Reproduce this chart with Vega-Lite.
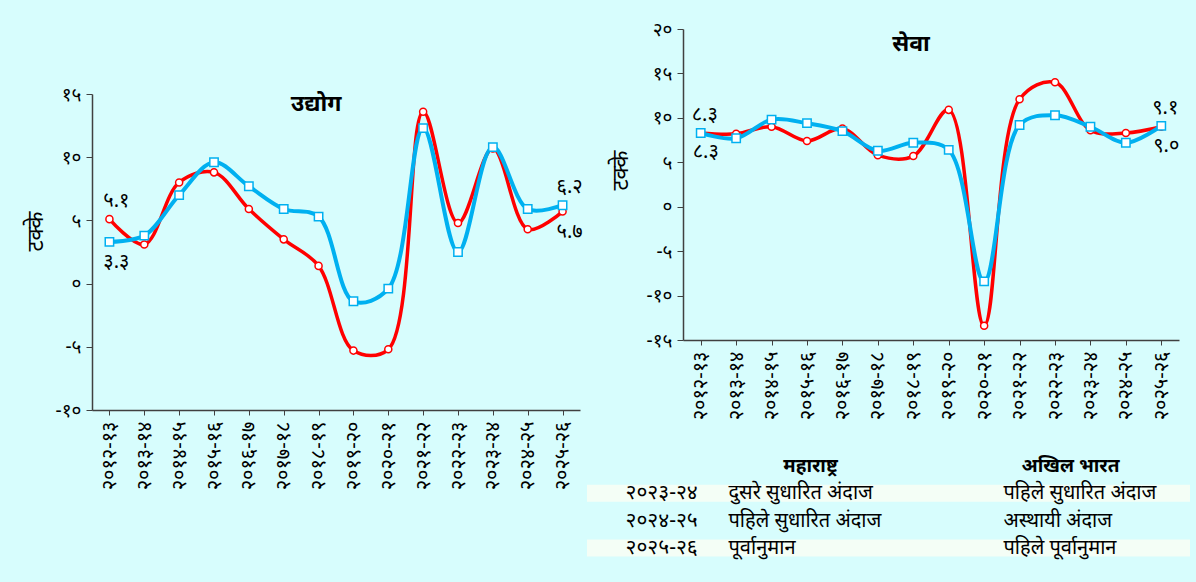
{
"$schema": "https://vega.github.io/schema/vega-lite/v6.json",
"background": "#d7fdfd",
"padding": {"left": 24, "top": 20, "right": 30, "bottom": 80},
"config": {"view": {"stroke": null}, "font": "Noto Sans", "concat": {"spacing": 2}},
"datasets": {
"s": [
{"panel":"उद्योग","series":"महाराष्ट्र","year":"२०१२-१३","value":5.1,"label":"५.१"},
{"panel":"उद्योग","series":"महाराष्ट्र","year":"२०१३-१४","value":3.1},
{"panel":"उद्योग","series":"महाराष्ट्र","year":"२०१४-१५","value":8.0},
{"panel":"उद्योग","series":"महाराष्ट्र","year":"२०१५-१६","value":8.8},
{"panel":"उद्योग","series":"महाराष्ट्र","year":"२०१६-१७","value":5.9},
{"panel":"उद्योग","series":"महाराष्ट्र","year":"२०१७-१८","value":3.5},
{"panel":"उद्योग","series":"महाराष्ट्र","year":"२०१८-१९","value":1.4},
{"panel":"उद्योग","series":"महाराष्ट्र","year":"२०१९-२०","value":-5.3},
{"panel":"उद्योग","series":"महाराष्ट्र","year":"२०२०-२१","value":-5.2},
{"panel":"उद्योग","series":"महाराष्ट्र","year":"२०२१-२२","value":13.6},
{"panel":"उद्योग","series":"महाराष्ट्र","year":"२०२२-२३","value":4.8},
{"panel":"उद्योग","series":"महाराष्ट्र","year":"२०२३-२४","value":10.7},
{"panel":"उद्योग","series":"महाराष्ट्र","year":"२०२४-२५","value":4.3},
{"panel":"उद्योग","series":"महाराष्ट्र","year":"२०२५-२६","value":5.7,"label":"५.७"},
{"panel":"उद्योग","series":"अखिल भारत","year":"२०१२-१३","value":3.3,"label":"३.३"},
{"panel":"उद्योग","series":"अखिल भारत","year":"२०१३-१४","value":3.8},
{"panel":"उद्योग","series":"अखिल भारत","year":"२०१४-१५","value":7.0},
{"panel":"उद्योग","series":"अखिल भारत","year":"२०१५-१६","value":9.6},
{"panel":"उद्योग","series":"अखिल भारत","year":"२०१६-१७","value":7.7},
{"panel":"उद्योग","series":"अखिल भारत","year":"२०१७-१८","value":5.9},
{"panel":"उद्योग","series":"अखिल भारत","year":"२०१८-१९","value":5.3},
{"panel":"उद्योग","series":"अखिल भारत","year":"२०१९-२०","value":-1.4},
{"panel":"उद्योग","series":"अखिल भारत","year":"२०२०-२१","value":-0.4},
{"panel":"उद्योग","series":"अखिल भारत","year":"२०२१-२२","value":12.3},
{"panel":"उद्योग","series":"अखिल भारत","year":"२०२२-२३","value":2.5},
{"panel":"उद्योग","series":"अखिल भारत","year":"२०२३-२४","value":10.8},
{"panel":"उद्योग","series":"अखिल भारत","year":"२०२४-२५","value":5.9},
{"panel":"उद्योग","series":"अखिल भारत","year":"२०२५-२६","value":6.2,"label":"६.२"},
{"panel":"सेवा","series":"महाराष्ट्र","year":"२०१२-१३","value":8.3,"label":"८.३"},
{"panel":"सेवा","series":"महाराष्ट्र","year":"२०१३-१४","value":8.2},
{"panel":"सेवा","series":"महाराष्ट्र","year":"२०१४-१५","value":9.0},
{"panel":"सेवा","series":"महाराष्ट्र","year":"२०१५-१६","value":7.4},
{"panel":"सेवा","series":"महाराष्ट्र","year":"२०१६-१७","value":8.8},
{"panel":"सेवा","series":"महाराष्ट्र","year":"२०१७-१८","value":5.8},
{"panel":"सेवा","series":"महाराष्ट्र","year":"२०१८-१९","value":5.7},
{"panel":"सेवा","series":"महाराष्ट्र","year":"२०१९-२०","value":10.9},
{"panel":"सेवा","series":"महाराष्ट्र","year":"२०२०-२१","value":-13.4},
{"panel":"सेवा","series":"महाराष्ट्र","year":"२०२१-२२","value":12.1},
{"panel":"सेवा","series":"महाराष्ट्र","year":"२०२२-२३","value":14.0},
{"panel":"सेवा","series":"महाराष्ट्र","year":"२०२३-२४","value":8.6},
{"panel":"सेवा","series":"महाराष्ट्र","year":"२०२४-२५","value":8.3},
{"panel":"सेवा","series":"महाराष्ट्र","year":"२०२५-२६","value":9.0,"label":"९.०"},
{"panel":"सेवा","series":"अखिल भारत","year":"२०१२-१३","value":8.3,"label":"८.३"},
{"panel":"सेवा","series":"अखिल भारत","year":"२०१३-१४","value":7.7},
{"panel":"सेवा","series":"अखिल भारत","year":"२०१४-१५","value":9.8},
{"panel":"सेवा","series":"अखिल भारत","year":"२०१५-१६","value":9.4},
{"panel":"सेवा","series":"अखिल भारत","year":"२०१६-१७","value":8.5},
{"panel":"सेवा","series":"अखिल भारत","year":"२०१७-१८","value":6.3},
{"panel":"सेवा","series":"अखिल भारत","year":"२०१८-१९","value":7.2},
{"panel":"सेवा","series":"अखिल भारत","year":"२०१९-२०","value":6.4},
{"panel":"सेवा","series":"अखिल भारत","year":"२०२०-२१","value":-8.4},
{"panel":"सेवा","series":"अखिल भारत","year":"२०२१-२२","value":9.2},
{"panel":"सेवा","series":"अखिल भारत","year":"२०२२-२३","value":10.3},
{"panel":"सेवा","series":"अखिल भारत","year":"२०२३-२४","value":9.0},
{"panel":"सेवा","series":"अखिल भारत","year":"२०२४-२५","value":7.2},
{"panel":"सेवा","series":"अखिल भारत","year":"२०२५-२६","value":9.1,"label":"९.१"}
],
"t": [
{"row":"शीर्षक","col":"महाराष्ट्र","text":"महाराष्ट्र"},
{"row":"शीर्षक","col":"अखिल भारत","text":"अखिल भारत"},
{"row":"२०२३-२४","col":"वर्ष","text":"२०२३-२४"},
{"row":"२०२३-२४","col":"महाराष्ट्र","text":"दुसरे सुधारित अंदाज"},
{"row":"२०२३-२४","col":"अखिल भारत","text":"पहिले सुधारित अंदाज"},
{"row":"२०२४-२५","col":"वर्ष","text":"२०२४-२५"},
{"row":"२०२४-२५","col":"महाराष्ट्र","text":"पहिले सुधारित अंदाज"},
{"row":"२०२४-२५","col":"अखिल भारत","text":"अस्थायी अंदाज"},
{"row":"२०२५-२६","col":"वर्ष","text":"२०२५-२६"},
{"row":"२०२५-२६","col":"महाराष्ट्र","text":"पूर्वानुमान"},
{"row":"२०२५-२६","col":"अखिल भारत","text":"पहिले पूर्वानुमान"}
]
},
"hconcat": [
{"spacing": 0, "vconcat": [
 {"width": 488, "height": 56, "data": {"values": [{"a": 1}]}, "mark": {"type": "point", "opacity": 0}},
 {"width": 488, "height": 316,
  "data": {"name": "s"},
  "transform": [{"filter": "datum.panel === 'उद्योग'"}],
  "title": {"text": "उद्योग", "fontSize": 23, "fontWeight": "bold", "color": "#000", "frame": "group", "offset": -31, "dx": -20},
  "encoding": {
   "x": {"field": "year", "type": "ordinal", "sort": null, "axis": {"title": null, "labelAngle": -90, "labelFontSize": 20, "labelPadding": 6, "tickSize": 5, "domainColor": "#404040", "tickColor": "#404040", "domainWidth": 1.5, "labelColor": "#000"}},
   "y": {"field": "value", "type": "quantitative", "scale": {"domain": [-10, 15], "nice": false, "zero": false}, "axis": {"values": [-10,-5,0,5,10,15], "grid": false, "title": "टक्के", "titleY": 137, "titleFontSize": 22, "titleFontWeight": "normal", "titleColor": "#000", "titlePadding": 8, "labelFontSize": 19, "labelPadding": 5, "labelColor": "#000", "tickSize": 6, "domainColor": "#404040", "tickColor": "#404040", "domainWidth": 1.5, "labelExpr": "replace(replace(replace(replace(replace(replace(replace(replace(replace(replace(toString(datum.value),regexp('0','g'),'०'),regexp('1','g'),'१'),regexp('2','g'),'२'),regexp('3','g'),'३'),regexp('4','g'),'४'),regexp('5','g'),'५'),regexp('6','g'),'६'),regexp('7','g'),'७'),regexp('8','g'),'८'),regexp('9','g'),'९')"}}
  },
  "layer": [
   {"transform": [{"filter": "datum.series === 'महाराष्ट्र'"}], "mark": {"type": "line", "color": "#ff0000", "strokeWidth": 3.5, "interpolate": "catmull-rom"}},
   {"transform": [{"filter": "datum.series === 'महाराष्ट्र'"}], "mark": {"type": "point", "shape": "circle", "filled": true, "fill": "#ffffff", "stroke": "#ff0000", "strokeWidth": 1.5, "size": 50, "opacity": 1}},
   {"transform": [{"filter": "datum.series === 'अखिल भारत'"}], "mark": {"type": "line", "color": "#00b0f0", "strokeWidth": 4, "interpolate": "catmull-rom"}},
   {"transform": [{"filter": "datum.series === 'अखिल भारत'"}], "mark": {"type": "point", "shape": "square", "filled": true, "fill": "#ffffff", "stroke": "#00b0f0", "strokeWidth": 1.5, "size": 70, "opacity": 1}},
   {"transform": [{"filter": "isValid(datum.label) && ((datum.series === 'महाराष्ट्र' && datum.year === '२०१२-१३') || (datum.series === 'अखिल भारत' && datum.year === '२०२५-२६'))"}], "mark": {"type": "text", "fontSize": 20, "color": "#000", "dy": -18, "dx": 7}, "encoding": {"text": {"field": "label"}}},
   {"transform": [{"filter": "isValid(datum.label) && ((datum.series === 'अखिल भारत' && datum.year === '२०१२-१३') || (datum.series === 'महाराष्ट्र' && datum.year === '२०२५-२६'))"}], "mark": {"type": "text", "fontSize": 20, "color": "#000", "dy": 20, "dx": 7}, "encoding": {"text": {"field": "label"}}}
  ]
 }
]},
{"spacing": 32, "vconcat": [
 {"spacing": 18, "hconcat": [
  {"width": 2, "height": 10, "data": {"values": [{"a": 1}]}, "mark": {"type": "point", "opacity": 0}},
  {"width": 496, "height": 311,
  "data": {"name": "s"},
  "transform": [{"filter": "datum.panel === 'सेवा'"}],
  "title": {"text": "सेवा", "fontSize": 23, "fontWeight": "bold", "color": "#000", "frame": "group", "offset": -36, "dx": -20},
  "encoding": {
   "x": {"field": "year", "type": "ordinal", "sort": null, "axis": {"title": null, "labelAngle": -90, "labelFontSize": 20, "labelPadding": 6, "tickSize": 5, "domainColor": "#404040", "tickColor": "#404040", "domainWidth": 1.5, "labelColor": "#000"}},
   "y": {"field": "value", "type": "quantitative", "scale": {"domain": [-15, 20], "nice": false, "zero": false}, "axis": {"values": [-15,-10,-5,0,5,10,15,20], "grid": false, "title": "टक्के", "titleY": 141, "titleFontSize": 22, "titleFontWeight": "normal", "titleColor": "#000", "titlePadding": 14, "labelFontSize": 19, "labelPadding": 5, "labelColor": "#000", "tickSize": 6, "domainColor": "#404040", "tickColor": "#404040", "domainWidth": 1.5, "labelExpr": "replace(replace(replace(replace(replace(replace(replace(replace(replace(replace(toString(datum.value),regexp('0','g'),'०'),regexp('1','g'),'१'),regexp('2','g'),'२'),regexp('3','g'),'३'),regexp('4','g'),'४'),regexp('5','g'),'५'),regexp('6','g'),'६'),regexp('7','g'),'७'),regexp('8','g'),'८'),regexp('9','g'),'९')"}}
  },
  "layer": [
   {"transform": [{"filter": "datum.series === 'महाराष्ट्र'"}], "mark": {"type": "line", "color": "#ff0000", "strokeWidth": 3.5, "interpolate": "catmull-rom"}},
   {"transform": [{"filter": "datum.series === 'महाराष्ट्र'"}], "mark": {"type": "point", "shape": "circle", "filled": true, "fill": "#ffffff", "stroke": "#ff0000", "strokeWidth": 1.5, "size": 50, "opacity": 1}},
   {"transform": [{"filter": "datum.series === 'अखिल भारत'"}], "mark": {"type": "line", "color": "#00b0f0", "strokeWidth": 4, "interpolate": "catmull-rom"}},
   {"transform": [{"filter": "datum.series === 'अखिल भारत'"}], "mark": {"type": "point", "shape": "square", "filled": true, "fill": "#ffffff", "stroke": "#00b0f0", "strokeWidth": 1.5, "size": 70, "opacity": 1}},
   {"transform": [{"filter": "isValid(datum.label) && ((datum.series === 'महाराष्ट्र' && datum.year === '२०१२-१३') || (datum.series === 'अखिल भारत' && datum.year === '२०२५-२६'))"}], "mark": {"type": "text", "fontSize": 20, "color": "#000", "dy": -18, "dx": 4}, "encoding": {"text": {"field": "label"}}},
   {"transform": [{"filter": "isValid(datum.label) && ((datum.series === 'अखिल भारत' && datum.year === '२०१२-१३') || (datum.series === 'महाराष्ट्र' && datum.year === '२०२५-२६'))"}], "mark": {"type": "text", "fontSize": 20, "color": "#000", "dy": 19, "dx": 5}, "encoding": {"text": {"field": "label"}}}
  ]
  }
 ]},
 {"width": 603, "height": 110,
  "data": {"name": "t"},
  "encoding": {
   "y": {"field": "row", "type": "nominal", "scale": {"type": "band", "domain": ["शीर्षक", "२०२३-२४", "२०२४-२५", "२०२५-२६"], "paddingInner": 0.38, "paddingOuter": 0.2}, "axis": null}
  },
  "layer": [
   {"transform": [{"filter": "datum.col === 'वर्ष' && (datum.row === '२०२३-२४' || datum.row === '२०२५-२६')"}], "mark": {"type": "rect", "color": "#f4fef6"}},
   {"transform": [{"filter": "datum.col === 'वर्ष'"}], "mark": {"type": "text", "fontSize": 21, "color": "#000", "align": "left", "dx": -62},
    "encoding": {"x": {"field": "col", "type": "nominal", "scale": {"type": "point", "domain": ["वर्ष", "महाराष्ट्र", "अखिल भारत"], "padding": 0.5}, "axis": null}, "text": {"field": "text"}}},
   {"transform": [{"filter": "datum.col === 'महाराष्ट्र' && datum.row !== 'शीर्षक'"}], "mark": {"type": "text", "fontSize": 20, "color": "#000", "align": "left", "dx": -160},
    "encoding": {"x": {"field": "col", "type": "nominal", "scale": {"type": "point", "domain": ["वर्ष", "महाराष्ट्र", "अखिल भारत"], "padding": 0.5}, "axis": null}, "text": {"field": "text"}}},
   {"transform": [{"filter": "datum.col === 'अखिल भारत' && datum.row !== 'शीर्षक'"}], "mark": {"type": "text", "fontSize": 20, "color": "#000", "align": "left", "dx": -86},
    "encoding": {"x": {"field": "col", "type": "nominal", "scale": {"type": "point", "domain": ["वर्ष", "महाराष्ट्र", "अखिल भारत"], "padding": 0.5}, "axis": null}, "text": {"field": "text"}}},
   {"transform": [{"filter": "datum.col === 'महाराष्ट्र' && datum.row === 'शीर्षक'"}], "mark": {"type": "text", "fontSize": 19, "fontWeight": "bold", "color": "#000", "align": "center", "dx": -78},
    "encoding": {"x": {"field": "col", "type": "nominal", "scale": {"type": "point", "domain": ["वर्ष", "महाराष्ट्र", "अखिल भारत"], "padding": 0.5}, "axis": null}, "text": {"field": "text"}}},
   {"transform": [{"filter": "datum.col === 'अखिल भारत' && datum.row === 'शीर्षक'"}], "mark": {"type": "text", "fontSize": 19, "fontWeight": "bold", "color": "#000", "align": "center", "dx": -19},
    "encoding": {"x": {"field": "col", "type": "nominal", "scale": {"type": "point", "domain": ["वर्ष", "महाराष्ट्र", "अखिल भारत"], "padding": 0.5}, "axis": null}, "text": {"field": "text"}}}
  ]
 }
]}
]
}
